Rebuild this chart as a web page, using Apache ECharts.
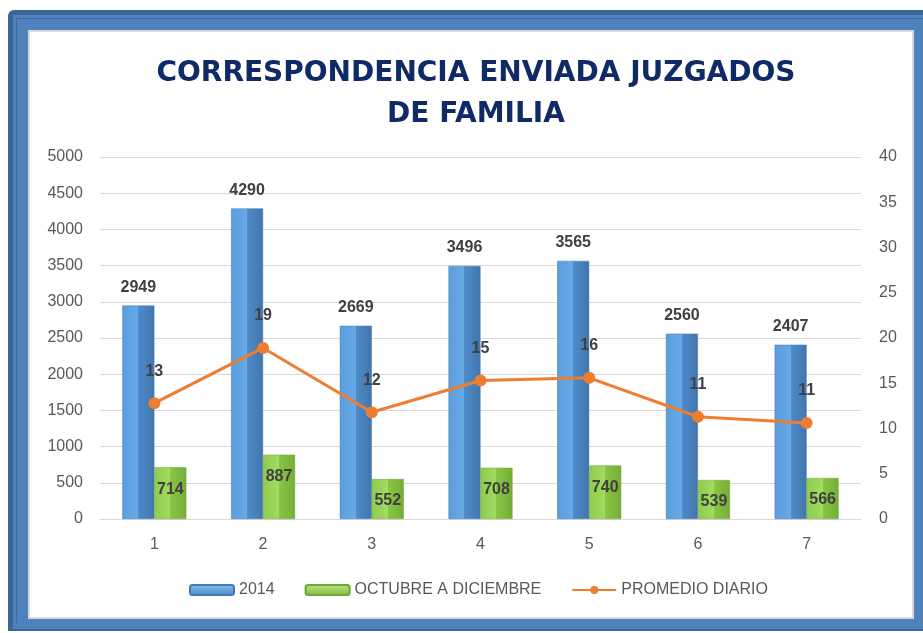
<!DOCTYPE html>
<html>
<head>
<meta charset="utf-8">
<script src="https://cdn.jsdelivr.net/npm/echarts@6/dist/echarts.min.js"></script>
<style>
  html, body { margin: 0; padding: 0; background: #fff; }
  #marco {
    position: absolute; left: 8px; top: 10px; width: 920px; height: 621px;
    background: #4F81BD; border-top: 5px solid #3B6596; border-left: 5px solid #3B6596;
    border-bottom: 2px solid #3B6596; border-radius: 6px 0 0 0; box-sizing: border-box;
  }
  #linea {
    position: absolute; left: 16px; top: 18px; width: 910px; height: 605px;
    border-top: 1px solid #3E6A9E; border-left: 1px solid #3E6A9E; box-sizing: border-box;
  }
  #blanco {
    position: absolute; left: 28px; top: 30px; width: 886px; height: 589px;
    background: #fff; border: 2px solid #D9D9D9; box-sizing: border-box;
  }
  #grafico { position: absolute; left: 0; top: 0; width: 923px; height: 633px; }
</style>
</head>
<body>
<div id="marco"></div>
<div id="linea"></div>
<div id="blanco"></div>
<div id="grafico"></div>
<script>
  // datos
  const categorias = ['1', '2', '3', '4', '5', '6', '7'];
  const anio2014 = [2949, 4290, 2669, 3496, 3565, 2560, 2407];
  const octDic = [714, 887, 552, 708, 740, 539, 566];
  const promedio = [12.8, 18.9, 11.8, 15.3, 15.6, 11.3, 10.6];

  const chart = echarts.init(document.getElementById('grafico'));

  const fuente = "'Liberation Sans', 'DejaVu Sans', sans-serif";
  const etiqueta = { fontFamily: fuente, fontSize: 16, fontWeight: 'bold', color: '#404040' };

  const azul = new echarts.graphic.LinearGradient(0, 0, 1, 0, [
    { offset: 0, color: '#5B9CDB' },
    { offset: 0.5, color: '#67AAE8' },
    { offset: 0.5, color: '#4F8CCA' },
    { offset: 1, color: '#4175AC' }
  ]);
  const verde = new echarts.graphic.LinearGradient(0, 0, 1, 0, [
    { offset: 0, color: '#8FCB4E' },
    { offset: 0.5, color: '#A2DC62' },
    { offset: 0.5, color: '#8AC646' },
    { offset: 1, color: '#74AD36' }
  ]);
  // iconos de leyenda con brillo arriba
  const azulLeyenda = new echarts.graphic.LinearGradient(0, 0, 0, 1, [
    { offset: 0, color: '#8CC4F2' },
    { offset: 1, color: '#4A84C2' }
  ]);
  const verdeLeyenda = new echarts.graphic.LinearGradient(0, 0, 0, 1, [
    { offset: 0, color: '#BDEB8A' },
    { offset: 1, color: '#7DB83D' }
  ]);

  const option = {
    title: {
      text: 'CORRESPONDENCIA ENVIADA JUZGADOS\nDE FAMILIA',
      left: 471, top: 48, textAlign: 'center',
      textStyle: {
        fontFamily: "'DejaVu Sans', sans-serif", fontSize: 28, fontWeight: 'bold',
        color: '#0F2A66', lineHeight: 41
      }
    },
    legend: {
      top: 577, left: 184, itemWidth: 44, itemHeight: 10, itemGap: 30,
      textStyle: { fontFamily: fuente, fontSize: 16, color: '#595959' },
      data: [
        { name: '2014', itemStyle: { color: azulLeyenda, borderColor: '#4579B3' } },
        { name: 'OCTUBRE A DICIEMBRE', itemStyle: { color: verdeLeyenda, borderColor: '#6FA534' } },
        { name: 'PROMEDIO DIARIO' }
      ]
    },
    grid: { left: 100, right: 62, top: 157, bottom: 114 },
    xAxis: {
      type: 'category', data: categorias,
      axisTick: { show: false },
      axisLine: { lineStyle: { color: '#D9D9D9' } },
      axisLabel: { fontFamily: fuente, fontSize: 16, color: '#595959', margin: 18 }
    },
    yAxis: [
      {
        type: 'value', min: 0, max: 5000, interval: 500,
        axisLabel: { fontFamily: fuente, fontSize: 16, color: '#595959', margin: 17, formatter: v => String(v) },
        splitLine: { lineStyle: { color: '#D9D9D9' } }
      },
      {
        type: 'value', min: 0, max: 40, interval: 5,
        axisLabel: { fontFamily: fuente, fontSize: 16, color: '#595959', margin: 18 },
        splitLine: { show: false }
      }
    ],
    series: [
      {
        name: '2014', type: 'bar', data: anio2014, barWidth: 32, barGap: '0%',
        itemStyle: { color: azul, borderColor: '#4579B3', borderWidth: 0.5 },
        label: Object.assign({ show: true, position: 'top', distance: 10 }, etiqueta)
      },
      {
        name: 'OCTUBRE A DICIEMBRE', type: 'bar', data: octDic, barWidth: 32,
        itemStyle: { color: verde, borderColor: '#6FA534', borderWidth: 0.5 },
        label: Object.assign({ show: true, position: 'insideTop', distance: 14 }, etiqueta)
      },
      {
        name: 'PROMEDIO DIARIO', type: 'line', yAxisIndex: 1, data: promedio,
        symbol: 'circle', symbolSize: 12,
        lineStyle: { color: '#ED7D31', width: 3 },
        itemStyle: { color: '#ED7D31' },
        label: Object.assign({
          show: true, position: 'top', distance: 18,
          formatter: p => Math.round(p.value)
        }, etiqueta)
      }
    ]
  };

  chart.setOption(option);
</script>
</body>
</html>
